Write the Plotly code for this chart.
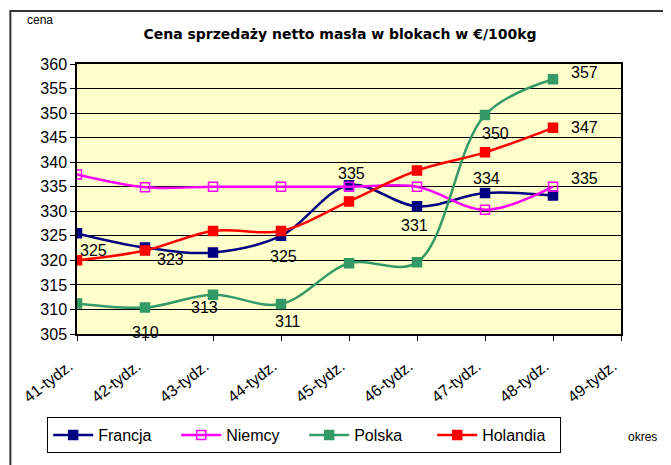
import plotly.graph_objects as go

weeks = ["41-tydz.", "42-tydz.", "43-tydz.", "44-tydz.", "45-tydz.",
         "46-tydz.", "47-tydz.", "48-tydz.", "49-tydz."]
francja = [325.5, 322.6, 321.6, 325.0, 335.3, 331.0, 333.7, 333.2]
niemcy = [337.5, 334.9, 335.0, 335.0, 335.0, 335.0, 330.3, 335.0]
polska = [311.2, 310.4, 313.0, 311.1, 319.4, 319.6, 349.6, 356.9]
holandia = [320.0, 322.0, 326.0, 326.0, 332.0, 338.3, 342.0, 347.0]

# data labels as shown in the reference: (series, week index, text)
labels = [
    ("francja", 0, "325"), ("francja", 1, "323"), ("francja", 3, "325"),
    ("francja", 4, "335"), ("francja", 5, "331"), ("francja", 6, "334"),
    ("polska", 1, "310"), ("polska", 2, "313"), ("polska", 3, "311"),
    ("polska", 6, "350"), ("polska", 7, "357"),
    ("holandia", 7, "347"), ("niemcy", 7, "335"),
]
series = {"francja": francja, "niemcy": niemcy, "polska": polska, "holandia": holandia}
shifts = [(16, -17), (25, -12), (2, -21), (2, 12), (-3, -19), (1, 15),
          (0, -25), (-9, -13), (7, -17), (10, -18), (31, 7), (31, 0), (31, 8)]

# plot area in window pixels: x 74..621, y 64..334
PL, PR, PT, PB = 74, 621, 64, 334
W, H = 671, 465
OFF = 8  # page body margin


def px(x):
    return (x - PL) / (PR - PL)


def py(y):
    return (PB - y) / (PB - PT)


FONT = "Liberation Sans, Arial"

fig = go.Figure()
specs = [
    ("Francja", francja, "#000080", "square"),
    ("Niemcy", niemcy, "#FF00FF", "square-open"),
    ("Polska", polska, "#339966", "square"),
    ("Holandia", holandia, "#FF0000", "square"),
]
for name, vals, col, sym in specs:
    fig.add_trace(go.Scatter(
        x=weeks[:len(vals)], y=vals, name=name, mode="lines+markers",
        line=dict(color=col, width=2.5, shape="spline", smoothing=1),
        marker=dict(symbol=sym, size=9, color=col, line=dict(color=col, width=1.5)),
    ))

for (s, i, t), (dx, dy) in zip(labels, shifts):
    fig.add_annotation(x=weeks[i], y=series[s][i], text=t, showarrow=False,
                       xshift=dx, yshift=dy,
                       font=dict(family=FONT, size=16, color="black"))

fig.add_annotation(xref="paper", yref="paper", x=px(22), y=py(20),
                   text="cena", showarrow=False, xanchor="left", yanchor="middle",
                   font=dict(family=FONT, size=12, color="black"))
fig.add_annotation(xref="paper", yref="paper", x=px(626), y=py(437),
                   text="okres", showarrow=False, xanchor="left", yanchor="middle",
                   font=dict(family=FONT, size=12, color="black"))

fig.add_shape(type="rect", xref="paper", yref="paper",
              x0=px(7), x1=px(700), y0=py(500), y1=py(11),
              line=dict(color="#333333", width=2), layer="below")

fig.update_layout(
    width=W, height=H,
    margin=dict(l=PL - OFF, r=W - (PR - OFF), t=PT - OFF, b=H - (PB - OFF)),
    paper_bgcolor="white", plot_bgcolor="#FFFFCC",
    font=dict(family=FONT, size=15, color="black"),
    title=dict(text="<b>Cena sprzedaży netto masła w blokach w €/100kg</b>",
               x=(340 - OFF) / W, xanchor="center", y=1 - (34 - OFF) / H, yanchor="middle",
               font=dict(family="DejaVu Sans, Arial", size=14, color="black")),
    showlegend=True,
    legend=dict(orientation="h", x=px(44), y=py(417),
                xanchor="left", yanchor="top", bgcolor="white",
                bordercolor="black", borderwidth=1, itemwidth=40,
                font=dict(size=16), entrywidth=73, entrywidthmode="pixels"),
    xaxis=dict(type="category", categoryorder="array", categoryarray=weeks,
               range=[0, 8], showgrid=False, showline=True, linecolor="black",
               linewidth=1.5, mirror=True, ticks="outside", ticklen=5,
               tickcolor="black", tickangle=-38, tickfont=dict(size=16),
               ticklabelstandoff=10, ticklabelshift=-8),
    yaxis=dict(range=[305, 360], dtick=5, showgrid=True, gridcolor="black",
               gridwidth=1, showline=True, linecolor="black", linewidth=1.5,
               mirror=True, ticks="outside", ticklen=5, tickcolor="black",
               zeroline=False, tickfont=dict(size=16)),
)

fig.write_html("out.html")
